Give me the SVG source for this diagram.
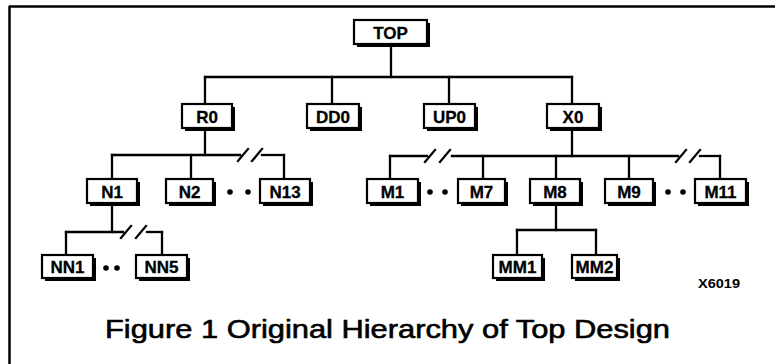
<svg xmlns="http://www.w3.org/2000/svg" width="775" height="364" viewBox="0 0 775 364">
<defs>
<style>
.frame{stroke:#000;stroke-width:2.5;fill:none}
.conn line{stroke:#000;stroke-width:2.3;stroke-linecap:square}
.shadow{fill:#000}
.box{fill:#fff;stroke:#000;stroke-width:2.2}
.lbl{font-family:"Liberation Sans",Arial,sans-serif;font-weight:bold;font-size:17px;text-anchor:middle;fill:#000;stroke:#000;stroke-width:0.3}
.dot{fill:#000}
.cap{font-family:"Liberation Sans",Arial,sans-serif;font-size:25px;fill:#000;stroke:#000;stroke-width:0.6}
.code{font-family:"Liberation Sans",Arial,sans-serif;font-weight:bold;font-size:12.5px;fill:#000}
</style>
</defs>
<rect width="775" height="364" fill="#fff"/>
<line class="frame" x1="9" y1="6.5" x2="775" y2="6.5"/>
<line class="frame" x1="9.5" y1="6" x2="9.5" y2="364"/>

<g id="connectors" class="conn">
<line x1="391" y1="44" x2="391" y2="77"/>
<line x1="205" y1="77" x2="572" y2="77"/>
<line x1="205" y1="77" x2="205" y2="104"/>
<line x1="332" y1="77" x2="332" y2="104"/>
<line x1="449" y1="77" x2="449" y2="104"/>
<line x1="572" y1="77" x2="572" y2="104"/>

<line x1="205" y1="128" x2="205" y2="155"/>
<line x1="112" y1="155" x2="240" y2="155"/>
<line x1="238" y1="161" x2="248" y2="149"/>
<line x1="252" y1="161" x2="262" y2="149"/>
<line x1="262" y1="155" x2="284" y2="155"/>
<line x1="112" y1="155" x2="112" y2="179"/>
<line x1="191" y1="155" x2="191" y2="179"/>
<line x1="284" y1="155" x2="284" y2="179"/>

<line x1="572" y1="128" x2="572" y2="156"/>
<line x1="390" y1="156" x2="427" y2="156"/>
<line x1="425" y1="162" x2="435" y2="150"/>
<line x1="440" y1="162" x2="450" y2="150"/>
<line x1="452" y1="156" x2="678" y2="156"/>
<line x1="676" y1="162" x2="686" y2="150"/>
<line x1="690" y1="162" x2="700" y2="150"/>
<line x1="700" y1="156" x2="720" y2="156"/>
<line x1="390" y1="156" x2="390" y2="179"/>
<line x1="483" y1="156" x2="483" y2="179"/>
<line x1="556" y1="156" x2="556" y2="179"/>
<line x1="629" y1="156" x2="629" y2="179"/>
<line x1="720" y1="156" x2="720" y2="179"/>

<line x1="112" y1="203" x2="112" y2="232"/>
<line x1="66" y1="232" x2="123" y2="232"/>
<line x1="121" y1="238" x2="131" y2="226"/>
<line x1="136" y1="238" x2="146" y2="226"/>
<line x1="147" y1="232" x2="162" y2="232"/>
<line x1="66" y1="232" x2="66" y2="255"/>
<line x1="162" y1="232" x2="162" y2="255"/>

<line x1="556" y1="203" x2="556" y2="230"/>
<line x1="517" y1="230" x2="596" y2="230"/>
<line x1="517" y1="230" x2="517" y2="255"/>
<line x1="596" y1="230" x2="596" y2="255"/>
</g>

<g id="TOP"><rect class="shadow" x="357" y="23" width="73" height="24"/><rect class="box" x="354" y="20" width="73" height="24"/><text class="lbl" x="390.5" y="38.5">TOP</text></g>
<g id="R0"><rect class="shadow" x="185" y="107" width="50" height="24"/><rect class="box" x="182" y="104" width="50" height="24"/><text class="lbl" x="207" y="122.5">R0</text></g>
<g id="DD0"><rect class="shadow" x="310" y="107" width="52" height="24"/><rect class="box" x="307" y="104" width="52" height="24"/><text class="lbl" x="333" y="122.5">DD0</text></g>
<g id="UP0"><rect class="shadow" x="427" y="107" width="51" height="24"/><rect class="box" x="424" y="104" width="51" height="24"/><text class="lbl" x="449.5" y="122.5">UP0</text></g>
<g id="X0"><rect class="shadow" x="550" y="107" width="52" height="24"/><rect class="box" x="547" y="104" width="52" height="24"/><text class="lbl" x="573" y="122.5">X0</text></g>

<g id="N1"><rect class="shadow" x="90" y="182" width="50" height="24"/><rect class="box" x="87" y="179" width="50" height="24"/><text class="lbl" x="112" y="197.5">N1</text></g>
<g id="N2"><rect class="shadow" x="169" y="182" width="47" height="24"/><rect class="box" x="166" y="179" width="47" height="24"/><text class="lbl" x="189.5" y="197.5">N2</text></g>
<g id="N13"><rect class="shadow" x="263" y="182" width="50" height="24"/><rect class="box" x="260" y="179" width="50" height="24"/><text class="lbl" x="285" y="197.5">N13</text></g>
<g id="M1"><rect class="shadow" x="370" y="182" width="51" height="24"/><rect class="box" x="367" y="179" width="51" height="24"/><text class="lbl" x="392.5" y="197.5">M1</text></g>
<g id="M7"><rect class="shadow" x="461" y="182" width="47" height="24"/><rect class="box" x="458" y="179" width="47" height="24"/><text class="lbl" x="481.5" y="197.5">M7</text></g>
<g id="M8"><rect class="shadow" x="533" y="182" width="50" height="24"/><rect class="box" x="530" y="179" width="50" height="24"/><text class="lbl" x="555" y="197.5">M8</text></g>
<g id="M9"><rect class="shadow" x="608" y="182" width="48" height="24"/><rect class="box" x="605" y="179" width="48" height="24"/><text class="lbl" x="629" y="197.5">M9</text></g>
<g id="M11"><rect class="shadow" x="698" y="182" width="51" height="24"/><rect class="box" x="695" y="179" width="51" height="24"/><text class="lbl" x="720.5" y="197.5">M11</text></g>

<g id="NN1"><rect class="shadow" x="45" y="258" width="51" height="23"/><rect class="box" x="42" y="255" width="51" height="23"/><text class="lbl" x="67.5" y="273">NN1</text></g>
<g id="NN5"><rect class="shadow" x="139" y="258" width="51" height="23"/><rect class="box" x="136" y="255" width="51" height="23"/><text class="lbl" x="161.5" y="273">NN5</text></g>
<g id="MM1"><rect class="shadow" x="496" y="258" width="49" height="23"/><rect class="box" x="493" y="255" width="49" height="23"/><text class="lbl" x="517.5" y="273">MM1</text></g>
<g id="MM2"><rect class="shadow" x="575" y="258" width="45" height="23"/><rect class="box" x="572" y="255" width="45" height="23"/><text class="lbl" x="594.5" y="273">MM2</text></g>

<g id="ellipses">
<circle class="dot" cx="230" cy="192" r="2.8"/><circle class="dot" cx="248" cy="192" r="2.8"/>
<circle class="dot" cx="430" cy="192" r="2.8"/><circle class="dot" cx="445" cy="192" r="2.8"/>
<circle class="dot" cx="668" cy="192" r="2.8"/><circle class="dot" cx="683" cy="192" r="2.8"/>
<circle class="dot" cx="106" cy="268" r="2.8"/><circle class="dot" cx="117" cy="268" r="2.8"/>
</g>

<text class="code" x="698" y="288" textLength="42" lengthAdjust="spacingAndGlyphs">X6019</text>
<text class="cap" x="105" y="338" textLength="565" lengthAdjust="spacingAndGlyphs">Figure 1 Original Hierarchy of Top Design</text>
</svg>
